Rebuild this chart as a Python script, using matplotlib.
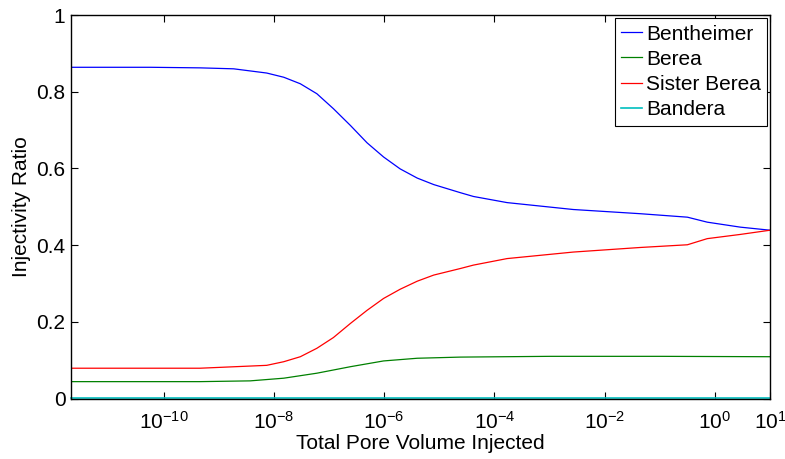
import matplotlib
matplotlib.use('Agg')
import matplotlib.pyplot as plt
import numpy as np

# log10 of total pore volume injected
bent_x = [-11.68, -10.24, -9.34, -8.73, -8.13, -7.82, -7.52, -7.22, -6.92, -6.61, -6.31,
          -6.01, -5.71, -5.40, -5.10, -4.62, -4.38, -3.77, -2.57, -1.35, -0.50, -0.14,
          0.46, 1.0]
bent_y = [0.864, 0.864, 0.8625, 0.860, 0.849, 0.838, 0.821, 0.795, 0.756, 0.712, 0.667,
          0.630, 0.599, 0.575, 0.558, 0.537, 0.527, 0.511, 0.493, 0.482, 0.473, 0.460,
          0.447, 0.439]

berea_x = [-11.68, -9.34, -8.43, -7.82, -7.22, -6.61, -6.01, -5.40, -4.62, -3.0, -1.0,
           1.0]
berea_y = [0.044, 0.044, 0.046, 0.053, 0.066, 0.083, 0.098, 0.105, 0.108, 0.110, 0.110,
           0.109]

sister_x = [-11.68, -9.34, -8.13, -7.82, -7.52, -7.22, -6.92, -6.61, -6.31, -6.01, -5.71,
            -5.40, -5.10, -4.62, -4.38, -3.77, -2.57, -1.35, -0.50, -0.14, 0.46, 1.0]
sister_y = [0.079, 0.079, 0.0865, 0.096, 0.109, 0.131, 0.159, 0.196, 0.230, 0.261, 0.285,
            0.306, 0.322, 0.339, 0.348, 0.365, 0.382, 0.394, 0.401, 0.417, 0.428, 0.439]

band_x = [-11.68, 1.0]
band_y = [0.002, 0.002]

xticks = [1e-10, 1e-8, 1e-6, 1e-4, 1e-2, 1e0, 1e1]
yticks = [0, 0.2, 0.4, 0.6, 0.8, 1]


def graf():
    plt.rcParams['font.family'] = ['Liberation Sans', 'DejaVu Sans']
    plt.rcParams['mathtext.fontset'] = 'custom'
    plt.rcParams['mathtext.rm'] = 'Liberation Sans'
    plt.rcParams['mathtext.it'] = 'Liberation Sans'
    fs = 15

    fig = plt.figure(figsize=(7.85, 4.59), dpi=100)
    ax = fig.add_axes([0.0904, 0.1318, 0.8906, 0.8352])

    ax.plot(10 ** np.array(bent_x), bent_y, color=(0, 0, 1), lw=0.9, label='Bentheimer')
    ax.plot(10 ** np.array(berea_x), berea_y, color=(0, 0.5, 0), lw=0.9, label='Berea')
    ax.plot(10 ** np.array(sister_x), sister_y, color=(1, 0, 0), lw=0.9, label='Sister Berea')
    ax.plot(10 ** np.array(band_x), band_y, color=(0, 0.75, 0.75), lw=1.2, label='Bandera',
            clip_on=False)

    ax.set_xscale('log')
    ax.set_xlim(10 ** -11.68, 10 ** 1.0)
    ax.set_ylim(0, 1)
    ax.set_xticks(xticks)
    ax.set_xticklabels([r'$10^{%d}$' % int(np.log10(t)) for t in xticks])
    ax.xaxis.set_minor_locator(matplotlib.ticker.NullLocator())
    ax.set_yticks(yticks)
    ax.set_yticklabels(['0', '0.2', '0.4', '0.6', '0.8', '1'])
    ax.tick_params(direction='in', top=True, right=True, labelsize=fs, length=5, width=0.8)
    ax.tick_params(axis='x', pad=9)
    ax.tick_params(axis='y', pad=4)
    for s in ax.spines.values():
        s.set_linewidth(1.0)

    ax.set_xlabel('Total Pore Volume Injected', fontsize=fs, labelpad=1)
    ax.set_ylabel('Injectivity Ratio', fontsize=fs, labelpad=4)

    leg = ax.legend(loc='upper right', fontsize=fs, handlelength=1.0, handletextpad=0.2,
                    labelspacing=0.3, borderpad=0.3, borderaxespad=0.15, fancybox=False,
                    framealpha=1, edgecolor='black')
    leg.get_frame().set_linewidth(0.8)

    fig.savefig('out.png', dpi=100)


if __name__ == '__main__':
    graf()
